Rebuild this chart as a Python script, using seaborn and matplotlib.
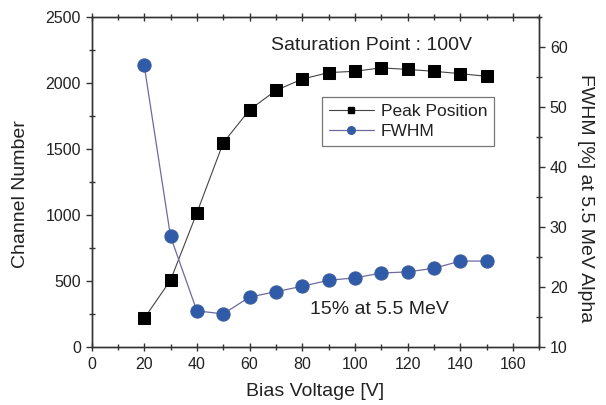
import numpy as np
import pandas as pd
import matplotlib
matplotlib.use("Agg")
import matplotlib.pyplot as plt
import seaborn as sns
from matplotlib.ticker import MultipleLocator
from matplotlib.lines import Line2D

# Data
bias_voltage = [20, 30, 40, 50, 60, 70, 80, 90, 100, 110, 120, 130, 140, 150]
peak_position = [220, 510, 1020, 1550, 1800, 1947, 2033, 2082, 2092, 2118, 2106, 2092, 2074, 2054]
fwhm = [57.0, 28.5, 16.1, 15.6, 18.4, 19.3, 20.2, 21.2, 21.6, 22.4, 22.6, 23.2, 24.4, 24.4]

x_ticks = [0, 20, 40, 60, 80, 100, 120, 140, 160]
left_ticks = [0, 500, 1000, 1500, 2000, 2500]
right_ticks = [10, 20, 30, 40, 50, 60]

df = pd.DataFrame({"Bias Voltage": bias_voltage, "Peak Position": peak_position, "FWHM": fwhm})

sns.set_style("ticks")
plt.rcParams["font.family"] = ["Liberation Sans", "DejaVu Sans"]

fig = plt.figure(figsize=(6.06, 4.05), dpi=100)
ax = fig.add_axes([0.151, 0.142, 0.739, 0.815])
ax2 = ax.twinx()

text_color = "#222222"
blue = "#2F5BA8"

sns.lineplot(data=df, x="Bias Voltage", y="Peak Position", ax=ax, color="#444444",
             linewidth=0.8, marker="s", markersize=8, markerfacecolor="black",
             markeredgecolor="black", legend=False)
sns.lineplot(data=df, x="Bias Voltage", y="FWHM", ax=ax2, color="#6F6A9E",
             linewidth=0.9, marker="o", markersize=9.5, markerfacecolor=blue,
             markeredgecolor="#3A5E9E", markeredgewidth=0.8, legend=False)

ax.set_xlim(0, 170)
ax.set_ylim(0, 2500)
ax2.set_ylim(10, 65)
ax.set_xticks(x_ticks)
ax.set_yticks(left_ticks)
ax2.set_yticks(right_ticks)
ax.xaxis.set_minor_locator(MultipleLocator(10))
ax.yaxis.set_minor_locator(MultipleLocator(250))
ax2.yaxis.set_minor_locator(MultipleLocator(5))

for a in (ax, ax2):
    for s in a.spines.values():
        s.set_color("#333333")
        s.set_linewidth(1.0)

ax.tick_params(axis="x", which="major", direction="inout", length=6, width=1, labelsize=11.5,
               colors="#333333", labelcolor=text_color, top=True, pad=4)
ax.tick_params(axis="x", which="minor", direction="inout", length=4, width=1, top=True,
               colors="#333333")
ax.tick_params(axis="y", which="major", direction="out", length=4, width=1, labelsize=11.5,
               colors="#333333", labelcolor=text_color)
ax.tick_params(axis="y", which="minor", direction="inout", length=4, width=1, colors="#333333")
ax2.tick_params(axis="y", which="major", direction="out", length=4, width=1, labelsize=11.5,
                colors="#333333", labelcolor=text_color)
ax2.tick_params(axis="y", which="minor", direction="inout", length=4, width=1, colors="#333333")

ax.set_xlabel("Bias Voltage [V]", fontsize=14, color=text_color, labelpad=8)
ax.set_ylabel("Channel Number", fontsize=14, color=text_color, labelpad=12)
ax2.set_ylabel("FWHM [%] at 5.5 MeV Alpha", fontsize=14, color=text_color,
               rotation=270, labelpad=19)
ax.yaxis.label.set_y(0.464)
ax2.yaxis.label.set_y(0.453)

ax.text(0.626, 0.915, "Saturation Point : 100V", transform=ax.transAxes, ha="center",
        va="center", fontsize=14, color=text_color)
ax.text(0.642, 0.114, "15% at 5.5 MeV", transform=ax.transAxes, ha="center",
        va="center", fontsize=14, color=text_color)

handles = [
    Line2D([], [], color="#444444", linewidth=0.8, marker="s", markersize=5,
           markerfacecolor="black", markeredgecolor="black"),
    Line2D([], [], color="#6F6A9E", linewidth=0.9, marker="o", markersize=5.5,
           markerfacecolor=blue, markeredgecolor="#3A5E9E"),
]
leg = ax2.legend(handles, ["Peak Position", "FWHM"], loc="upper left",
                 bbox_to_anchor=(0.514, 0.759), borderaxespad=0, fontsize=12.5,
                 frameon=True, fancybox=False, edgecolor="#555555", handlelength=2.6,
                 handletextpad=0.4, borderpad=0.4, labelspacing=0.3)
leg.get_frame().set_linewidth(0.9)
for t in leg.get_texts():
    t.set_color(text_color)

fig.savefig("out.png", dpi=100)
